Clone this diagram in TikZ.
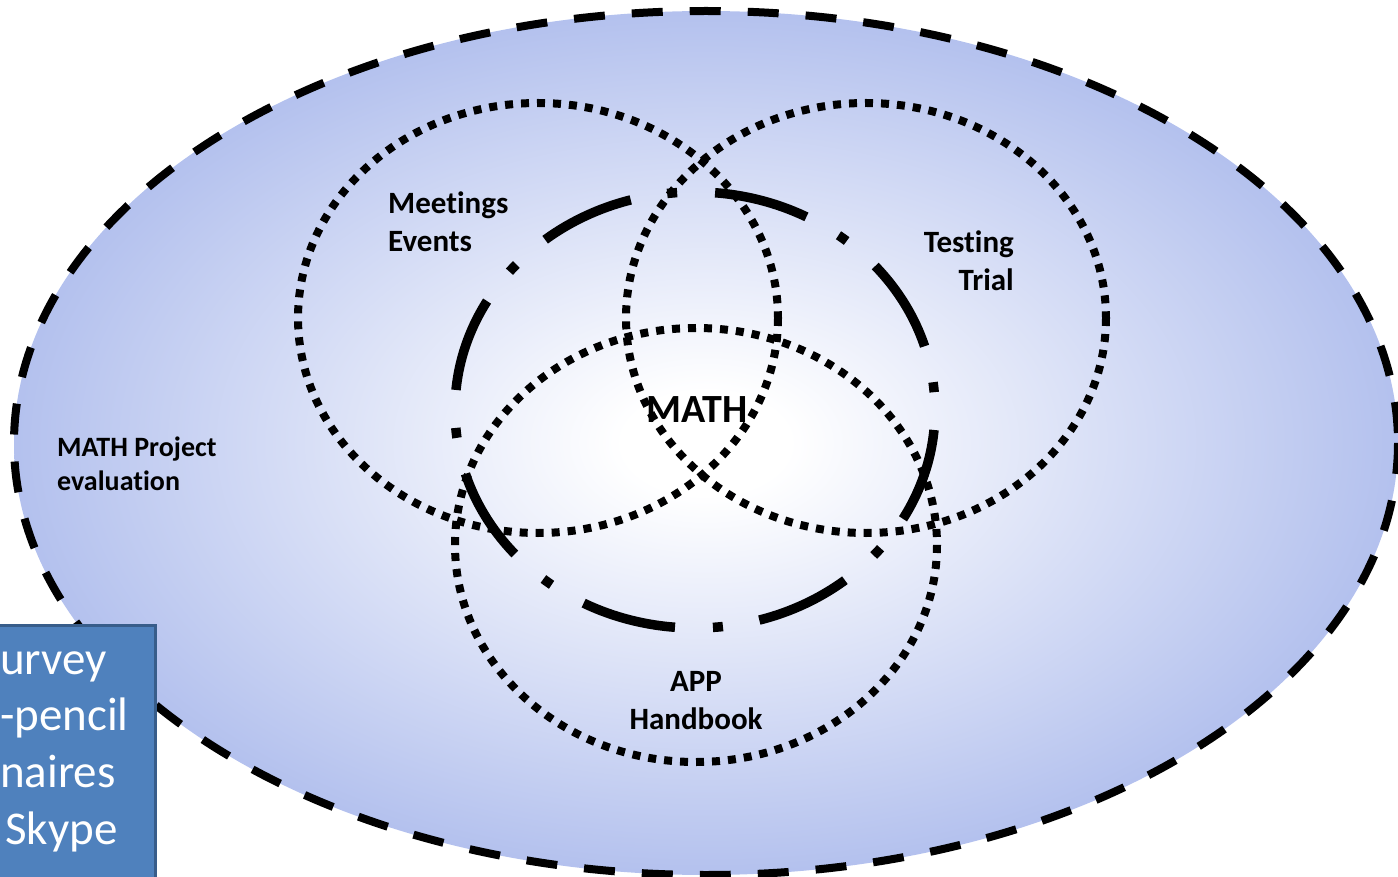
\documentclass[tikz,border=0pt]{standalone}
\usepackage{fontspec}
\setmainfont{Carlito}[Ligatures=NoCommon]
\definecolor{ob}{RGB}{176,190,237}
\definecolor{boxfill}{RGB}{79,129,189}
\definecolor{boxedge}{RGB}{56,93,138}
\pgfdeclareradialshading{halo}{\pgfpoint{0bp}{0bp}}{color(0bp)=(white); color(3bp)=(white); color(26bp)=(ob); color(50bp)=(ob)}
\tikzset{
  outerline/.style={line width=8pt, dash pattern=on 31pt off 27pt},
  dotline/.style={line width=8pt, dash pattern=on 8pt off 8pt},
  dashdotline/.style={line width=9.5pt, dash pattern=on 95pt off 37pt on 10pt off 38pt, dash phase=160pt},
  lbl/.style={font=\bfseries\fontsize{31}{38}\selectfont, inner sep=0pt},
  boxtxt/.style={font=\fontsize{47}{56}\selectfont, text=white, inner sep=0pt, anchor=base west}
}
\begin{document}
\begin{tikzpicture}[x=1pt,y=-1pt]
\useasboundingbox (0,0) rectangle (1398,877);
% outer evaluation ellipse
\shade[shading=halo] (706,443) ellipse [x radius=692, y radius=432];
\draw[outerline] (706,443) ellipse [x radius=692, y radius=432];
% three dotted circles
\draw[dotline] (538,318) ellipse [x radius=240, y radius=215];
\draw[dotline] (866,318) ellipse [x radius=240, y radius=215];
\draw[dotline] (696,545) ellipse [x radius=241, y radius=217];
% dash-dot circle
\draw[dashdotline] (695,410) ellipse [x radius=240, y radius=218];
% labels
\node[lbl, anchor=base west, align=left] (meet) at (388,252) {Meetings\\Events};
\node[lbl, anchor=base east, align=right] (test) at (1014,291) {Testing\\Trial};
\node[lbl, anchor=base, align=center] (app) at (696,729) {APP\\Handbook};
\node[font=\bfseries\fontsize{40}{44}\selectfont, inner sep=0pt] (math) at (697,410) {MATH};
\node[font=\bfseries\fontsize{28}{34}\selectfont, inner sep=0pt, anchor=base west, align=left] (proj) at (57,490) {MATH Project\\evaluation};
% blue box
\draw[fill=boxfill, draw=boxedge, line width=3pt] (-10,625) rectangle (155,890);
\node[boxtxt] (b1) at (0,674) {urvey};
\node[boxtxt] (b2) at (0,730) {-pencil};
\node[boxtxt] (b3) at (0,787) {naires};
\node[boxtxt] (b4) at (5,844) {Skype};
\end{tikzpicture}
\end{document}
